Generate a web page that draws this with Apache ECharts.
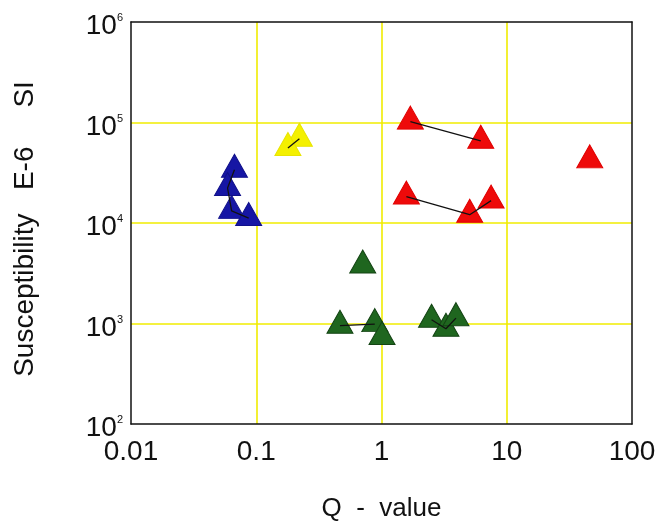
<!DOCTYPE html>
<html>
<head>
<meta charset="utf-8">
<script src="https://cdn.jsdelivr.net/npm/echarts@6/dist/echarts.min.js"></script>
<style>
html,body{margin:0;padding:0;background:#fff;}
#c{width:664px;height:522px;}
</style>
</head>
<body>
<div id="c"></div>
<script>
// ---- data ----
const xTickLabels = ['0.01', '0.1', '1', '10', '100'];
const yTickExps = ['2', '3', '4', '5', '6'];

const blueQ   = [0.067, 0.059, 0.0636, 0.087];
const blueSus = [33900, 22300, 13200, 11200];
const blueLinks = [[0, 1, 2, 3]];

const yellowQ   = [0.221, 0.179];
const yellowSus = [68900, 55700];
const yellowLinks = [[1, 0]];

const redQ   = [1.70, 6.2, 46, 1.58, 5.06, 7.5];
const redSus = [102000, 65800, 42000, 18300, 12100, 16700];
const redLinks = [[0, 1], [3, 4, 5]];

const greenQ   = [0.708, 0.466, 0.884, 1.01, 2.51, 3.27, 3.93];
const greenSus = [3780, 951, 986, 733, 1090, 887, 1130];
const greenLinks = [[1, 2], [4, 5, 6]];

// ---- build series ----
function pts(q, s) { return q.map((v, i) => [v, s[i]]); }
const groups = [
  {q: blueQ, s: blueSus, links: blueLinks, color: '#1616a4', border: '#10108a'},
  {q: yellowQ, s: yellowSus, links: yellowLinks, color: '#f4f000', border: '#e8e400'},
  {q: redQ, s: redSus, links: redLinks, color: '#ee0a0a', border: '#e00000'},
  {q: greenQ, s: greenSus, links: greenLinks, color: '#1f661f', border: '#144414'}
];
const series = [];
groups.forEach(g => {
  series.push({
    type: 'scatter',
    data: pts(g.q, g.s),
    symbol: 'triangle',
    symbolSize: [26, 23],
    symbolOffset: [0, -4],
    itemStyle: {color: g.color, borderColor: g.border, borderWidth: 1, opacity: 1},
    z: 3,
    silent: true
  });
  g.links.forEach(l => {
    series.push({
      type: 'line',
      data: l.map(i => [g.q[i], g.s[i]]),
      symbol: 'none',
      lineStyle: {color: '#111', width: 1.3},
      z: 4,
      silent: true
    });
  });
});

const chart = echarts.init(document.getElementById('c'), null, {renderer: 'canvas'});
chart.setOption({
  animation: false,
  backgroundColor: '#ffffff',
  grid: {left: 131, right: 32, top: 22, bottom: 98, containLabel: false, outerBoundsMode: 'none'},
  xAxis: [{
    type: 'log', logBase: 10, min: 0.01, max: 100,
    name: 'Q  -  value', nameLocation: 'middle', nameGap: 72,
    nameTextStyle: {fontFamily: 'Liberation Sans', fontSize: 26, color: '#111'},
    axisLine: {show: true, lineStyle: {color: '#111', width: 1.5}},
    axisTick: {show: false},
    axisLabel: {
      margin: 14, fontFamily: 'Liberation Sans', fontSize: 28, color: '#111',
      formatter: (v, i) => xTickLabels[i]
    },
    splitLine: {show: true, showMinLine: false, showMaxLine: false, lineStyle: {color: '#f0ec00', width: 1.6}},
    minorTick: {show: false}
  }, {
    type: 'log', logBase: 10, min: 0.01, max: 100, position: 'top',
    axisLine: {show: true, lineStyle: {color: '#111', width: 1.5}},
    axisTick: {show: false}, axisLabel: {show: false}, splitLine: {show: false}
  }],
  yAxis: [{
    type: 'log', logBase: 10, min: 100, max: 1000000,
    name: 'Susceptibility   E-6     SI', nameLocation: 'middle', nameGap: 92, nameRotate: 90,
    nameTextStyle: {fontFamily: 'Liberation Sans', fontSize: 28, color: '#111', padding: [0, 12, 0, 0]},
    axisLine: {show: true, lineStyle: {color: '#111', width: 1.5}},
    axisTick: {show: false},
    axisLabel: {
      margin: 8, color: '#111',
      formatter: (v, i) => '{b|10}{s|' + yTickExps[i] + '}',
      rich: {
        b: {fontFamily: 'Liberation Sans', fontSize: 28, color: '#111', verticalAlign: 'top'},
        s: {fontFamily: 'Liberation Sans', fontSize: 11, color: '#111', verticalAlign: 'top'}
      },
      padding: [9, 0, 0, 0]
    },
    splitLine: {show: true, showMinLine: false, showMaxLine: false, lineStyle: {color: '#f0ec00', width: 1.6}}
  }, {
    type: 'log', logBase: 10, min: 100, max: 1000000, position: 'right',
    axisLine: {show: true, lineStyle: {color: '#111', width: 1.5}},
    axisTick: {show: false}, axisLabel: {show: false}, splitLine: {show: false}
  }],
  series: series
});
</script>
</body>
</html>
